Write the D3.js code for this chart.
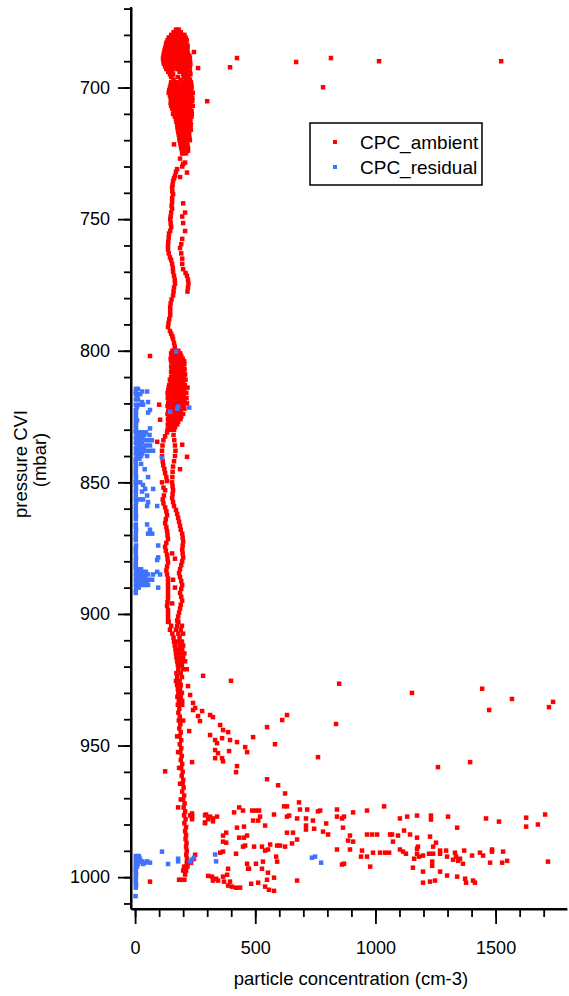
<!DOCTYPE html>
<html><head><meta charset="utf-8">
<script src="https://cdn.jsdelivr.net/npm/d3@7"></script>
<style>body{margin:0;background:#fff;} svg{display:block;} text{font-family:"Liberation Sans",Arial,sans-serif;fill:#000;}</style>
</head><body><svg id="chart" width="569" height="996"></svg>
<script>
// ---------- DATA ----------
const xTickValues = [0, 500, 1000, 1500];
const yTickValues = [700, 750, 800, 850, 900, 950, 1000];
const seriesNames = ["CPC_ambient", "CPC_residual"];
const xTitle = "particle concentration (cm-3)";
const yTitleLines = ["pressure CVI", "(mbar)"];

// rows: [pressure, conc, conc, ...]
const ambientTopRows = [
[678,170,182],[679,160,175,190],[680,150,165,180,195,205],[681,140,155,168,182,196,210],
[682,135,150,163,177,190,203,215],[683,130,145,158,171,185,198,212],[684,128,142,155,168,181,194,207,218],
[685,125,138,152,165,178,191,204,218],[686,122,136,150,164,177,190,203,216],[687,120,134,148,162,176,190,204,220],
[688,118,132,146,160,174,188,202,216,226],[689,116,130,144,158,172,186,200,214,228],[690,118,132,146,160,174,188,202,216,228],
[691,120,134,148,162,176,190,204,218,230],[692,125,140,155,170,185,200,215,228],[693,130,145,160,178,195,212,226],
[694,138,152,185,200,215,228],[695,145,158,200,215,230],[696,150,178,205,222],[697,160,190,210,228],
[698,150,165,180,200,218,232],[699,148,162,176,190,204,218,234],[700,145,160,175,190,205,220,235],
[701,142,157,172,187,202,217,232],[702,140,155,170,185,200,215,230,240],[703,145,160,175,190,205,220,235],
[704,148,163,178,193,208,223,238],[705,150,165,180,195,210,225,238],[706,148,162,176,190,204,218,232],
[707,150,165,180,195,210,225,240],[708,155,170,185,200,215,230],[709,160,175,190,205,220,235],
[710,158,172,186,200,214,228,236],[711,165,180,195,210,225,235],[712,170,185,200,215,230],
[713,172,186,200,214,228],[714,175,190,205,220,232],[715,176,190,204,218,230],[716,178,192,206,220,232],
[717,180,195,210,225],[718,182,196,210,224],[719,184,198,212,226],[720,185,200,215,228],
[721,188,202,216],[722,190,204,218],[723,192,206,220],[724,195,208,220],[725,198,212]
];
// [conc, pressure]
const ambientTopOutliers = [
[245,686.5],[262,692.6],[300,705.2],[395,692.3],[424,688.8],[162,721.6],[216,732.3],
[670,690.3],[815,688.8],[782,699.9],[1015,690],[1523,690]
];
const ambientUpperTraceA = [
[196,725],[187,727],[200,729],[208,728.5],[196,730],[175,731],[170,732],[166,733.5],[162,734.5],[158,735.5],
[156,737],[154,738],[155,739.5],[158,740.5],[154,742],[154,743.5],[152,745],[154,746],[150,747.5],[148,749],
[146,750],[148,751.5],[150,753],[146,754.5],[141,755.5],[140,757],[138,758.5],[137,760],[137,761.5],[140,763],
[145,764.5],[150,765.5],[154,767],[157,768.5],[158,770],[162,771.5],[165,773],[166,774.5],[162,776],[160,777.5],
[158,779],[152,780.5],[148,782],[146,783.5],[146,785],[146,786.5],[142,788],[139,789.5],[137,791],[145,792.5],
[150,793.5],[155,794.5],[158,795.5],[162,797],[165,798.5],[166,800]
];
const ambientUpperTraceB = [
[187,734],[200,744],[208,747.5],[196,749],[200,751.5],[208,754.5],[196,757.5],[192,759.5],[187,761],[192,763],
[196,765],[196,767],[200,769],[210,770.5],[216,771.5],[220,773],[222,774.5],[220,776],[218,777.5]
];
const ambientMidRows = [
[800,155,168,180],[801,150,163,176,188],[802,152,165,178,192],[803,148,160,172,185,198],[804,150,163,176,190,204],
[805,155,168,180,193,205],[806,150,162,175,188,200],[807,153,166,179,192,206],[808,150,163,176,189,202],
[809,155,168,181,195,208],[810,150,163,176,189,202],[811,145,158,171,184,197,210],[812,148,161,174,187,200],
[813,142,155,168,181,194,207],[814,140,153,166,179,192,205,218],[815,138,151,164,177,190,203],
[816,135,148,161,174,187,200,213],[817,138,151,164,177,190,203],[818,136,149,162,175,188,201,214],
[819,140,153,166,179,192,205],[820,138,151,164,177,190,203,216],[821,135,148,161,174,187,200],
[822,140,153,166,179,192,205],[823,138,151,164,177,190],[824,135,148,161,174,187,200],[825,140,153,166,179,192],
[826,137,150,163,176,189],[827,140,153,166,179],[828,136,149,162,175],[829,140,153,166],[830,135,150,162]
];
const ambientMidOutliers = [
[62,802],[100,820.5],[196,835.7],[216,840.3],[187,845],[92,834.6],[104,826.2]
];
const ambientLowerTraceA = [
[140,830],[133,831],[125,832.5],[118,834],[114,836],[112,838],[112,840],[115,842],[117,843.5],[122,845],
[125,846.5],[130,848],[133,849.5],[112,850],[118,852],[125,853],[120,855],[115,856.5],[118,858],[125,859.5],
[130,861],[133,862.5],[128,864],[125,865.5],[130,867],[133,868.5],[135,870],[137,871.5],[130,873],[125,874.5],
[128,876],[133,877.5],[135,879],[137,880.5],[133,882],[130,883.5],[133,885],[137,886.5],[137,888],[137,889.5],
[137,891],[137,892.5],[137,894],[135,895.5],[133,897],[137,898.5],[137,900],[137,901.5],[137,903]
];
const ambientLowerTraceB = [
[158,830],[160,832],[163,834],[166,836],[168,838],[166,840],[162,842],[158,844],[156,846],[155,848],
[154,850],[156,851.5],[158,853],[156,854.5],[154,856],[158,857.5],[162,859],[170,860.5],[175,862],[179,863.5],
[183,865],[187,866.5],[190,868],[196,869.5],[198,871],[200,872.5],[198,874],[196,875.5],[198,877],[200,878.5],
[196,880],[192,881.5],[187,883],[183,884.5],[187,886],[192,887.5],[196,889],[192,890.5],[187,892],[192,893.5],
[196,895],[190,896.5],[187,898],[183,899.5],[179,901],[175,902.5],
[154,877],[166,879],[158,887],[166,890],[154,896]
];
const ambientColumnRows = [
[903,140,180],[904.5,150,175,195],[906,145,170,190],[907.5,155,180,200],[909,160,185],[910.5,162,178,195],
[912,165,185,200],[913.5,168,180,196],[915,170,188,205],[916.5,172,185,200],[918,175,192,208],[919.5,178,195],
[921,180,200,215],[922.5,172,190],[924,175,195],[925.5,170,185],[927,175,190],[928.5,178,187],[930,180,195],
[931.5,176,190],[933,182,196],[934.5,178,196],[936,184],[937.5,180],[939,186],[940.5,182,200],[942,188],
[943.5,184],[945,190],[946.5,185,175],[948,192],[949.5,186],[951,192],[952.5,188,179],[954,194],[955.5,190],
[957,196],[958.5,192,183],[960,198],[961.5,194],[963,200],[964.5,198,187],[966,202],[967.5,196],[969,204],
[970.5,200,190],[972,206],[973.5,202,179],[975,208],[976.5,204,229,291],[978,210,237,304],[979.5,205,291],
[981,212],[982.5,208],[984,212],[985.5,210],[987,214],[988.5,212],[990,215],[991.5,213,250],[993,216,245],
[994.5,215,233],[996,218,212,204],[997.5,212,200,208],[999,208],[1001,205,190,183]
];
const ambientSpread950 = [
[220,927.4],[229,930.8],[241,933.8],[250,935.7],[279,936.9],[312,938.4],[324,939.2],[354,942.2],[366,944.1],
[387,944.9],[362,947.2],[395,947.9],[424,948.7],[458,950.6],[466,952.5],[491,946.8],[341,949.1],[333,951.7],
[345,952.9],[362,954.8],[366,956],[333,954.8],[391,952.1],[582,949.5],[549,943],[612,940.3],[632,938.4],
[283,923.5],[399,925.4],[849,926.5],[1152,930],[1444,928.4],[1568,932.3],[1473,936.5],[1722,935.4],[1739,933.4],
[836,941.8],[761,954.4],[1260,958.2],[1394,956.3],[125,959.8],[237,956.3],[225,944.5],[424,957.8],[420,960.1],
[549,962.8],[241,936.5],[262,938.8],[270,940.7],[312,946],[333,947.9]
];
const ambientBottom = [
[595,965.1],[624,968.2],[682,971.6],[620,973.1],[632,973.1],[686,974.3],[716,974.3],[770,974.7],[840,974.3],
[965,974.7],[1036,973.1],[433,973.5],[449,974.7],[412,975.4],[487,974.7],[503,974.7],[516,974.7],[295,976.2],
[312,977],[341,977],[324,977.7],[291,979.2],[324,978.8],[578,976.2],[520,977],[632,977],[641,976.6],[674,977.7],
[711,977.7],[711,980.4],[740,978.5],[761,975],[840,977],[861,977.7],[869,977],[907,975.4],[865,981.2],[1102,977.7],
[1132,977],[1173,976.6],[1231,976.6],[1231,978.1],[1302,977],[1460,977.7],[1514,978.9],[1627,977.4],[1627,980.8],
[1706,976.2],[1676,980],[1340,981.2],[491,978.5],[512,978.5],[541,980.4],[424,981.2],[453,980.8],[379,983.1],
[433,985],[466,984.2],[453,985],[366,986.5],[366,990.3],[354,990.7],[420,991.1],[449,988.4],[495,988.4],[528,988.4],
[562,987.6],[553,989.5],[541,989.9],[591,988],[603,988],[624,988.4],[653,987.2],[674,985.7],[632,983.1],[657,983.1],
[711,981.9],[745,981.6],[782,982.7],[803,983.8],[795,979.6],[894,984.2],[907,986.5],[886,986.1],[840,989.5],
[894,989.5],[965,983.8],[986,983.8],[1007,983.8],[1061,983.8],[1069,983.8],[1094,984.2],[1119,982.3],[1144,983.8],
[1073,986.5],[1173,985],[1227,984.6],[1252,986.9],[1240,988.4],[1177,988.4],[944,989.9],[940,992.2],[965,992.2],
[990,990.7],[1019,990.7],[1040,990.7],[1057,990.7],[1102,989.5],[1115,990.3],[1127,991.1],[1173,989.2],[1173,991.1],
[1181,992.2],[1198,991.8],[1223,991.1],[1240,991.1],[1269,989.9],[1269,991.1],[1294,989.9],[1298,992.2],[1331,990.7],
[1335,992.2],[1352,993],[1364,994.9],[1323,993.4],[1344,993.8],[1402,991.8],[1435,990.7],[1448,991.8],[1485,989.5],
[1485,990.3],[1477,994.5],[1527,994.5],[1548,993.8],[1531,990.3],[1718,994.1],[1161,993],[1236,994.1],[1236,995.7],
[1156,996.4],[1198,997.9],[1269,997.9],[1298,999.4],[1248,1001.3],[1227,1001.7],[1198,1002.1],[1340,999.8],
[1373,1000.6],[1377,1002.1],[1406,1001.3],[1414,1002.1],[1369,989.9],[978,996],[869,994.9],[674,1001.3],
[474,996.8],[503,994.9],[532,994.1],[528,996.8],[553,998.3],[549,1001],[578,1000.2],[591,994.1],[587,992.2],
[483,1002.5],[512,1002.1],[541,1003.6],[557,1004.8],[578,1005.2],[304,999.5],[320,999.8],[337,1000.6],[345,1001.3],
[324,1001.3],[366,999.8],[383,999.1],[387,996.8],[370,1001.7],[395,1001.7],[387,1003.2],[403,1003.6],[420,1004],
[437,1004],[366,984.2],[379,986.9],[458,988],[62,1001.7],[466,994.9],[470,996.8],[861,995.2],[237,975.8],[237,977]
];
const residualUpperRows = [
[814.5,4,12],[815.5,29,50,3],[816.5,21,3],[817.5,8],[818.5,12,3],[819.5,29,54],[820.5,33,21,3],[821.5,8],
[822.5,62,3],[823.5,54,4],[824.5,3],[825.5,4],[826.5,8,3],[827.5,4],[828.5,3],[829.5,62,4],[830.5,3],
[831,3,15,30,45],[832,8,22,38,60],[833,3,15,30],[834,5,20,40,55,70],[835,3,12,28],[836,8,25,45,62],
[837,3,18,35],[838,5,22,40,58,75],[839,3,15,30],[840,8,25,50],[841,3,18],
[842,3],[843,3,25],[844,4],[845,3,40],[846,3],[847,3],[848,54,4],[849,3],[850,21,3],[851,33,3],
[852.5,42,75,4],[853.5,29,3],[855,50,3],[856.5,33,21,3],[857.5,54,4],[859,92,50,3],[860.5,3],[862,3],[863,4],
[864,3],[866,50,3],[867,3],[868,62,4],[869.5,54,71,3],[871,3],[872,3],[874,96,4],[875,3],[876,3],[877,3],
[878.5,96,4],[879.5,92,3],[881,3],[882,3],
[883,3,12,25],[884,5,18,32,45,92],[885,3,10,22,38,54,75,104],[886,5,15,28,42],[887,3,12,25,40,58,71],
[888,5,18,32,48],[889,3,10,22,36,54],[890,5,15,96],[891,3],[892,3]
];
const residualUpperOutliers = [
[112,840.7],[175,822],[146,823.2],[179,821.2],[171,800.3],[225,821.6]
];
const residualLowerRows = [
[990.3,112],[991.4,333],[992,3,8,16],[992.6,245,736],[993,4,12,20,179],[993.4,237],
[994,3,8,16,24,29,50,179,229,337],[994.5,42,62,774],[995,4,12,137,33],[996,3,8],[997,3],[998,3],
[999,4],[1000,3],[1001,3],[1002,3],[1003,4],[1004,3],[1007.2,2]
];
const residualLowerOutliers = [[749,992.2]];

// ---------- BUILD ----------
const fromRows = rows => rows.flatMap(r => r.slice(1).map(c => [c, r[0]]));
const ambient = [].concat(fromRows(ambientTopRows), ambientTopOutliers, ambientUpperTraceA, ambientUpperTraceB,
  fromRows(ambientMidRows), ambientMidOutliers, ambientLowerTraceA, ambientLowerTraceB,
  fromRows(ambientColumnRows), ambientSpread950, ambientBottom);
const residual = [].concat(fromRows(residualUpperRows), residualUpperOutliers,
  fromRows(residualLowerRows), residualLowerOutliers);

const colors = {amb: "#ff0000", res: "#3f72ff"};
const svg = d3.select("#chart");
const x = d3.scaleLinear().domain([-17, 1797]).range([131, 567]);
const y = d3.scaleLinear().domain([669.4, 1012.1]).range([7, 909]);
const ms = 4.5;

function drawPts(data, color) {
  svg.append("g").selectAll("rect").data(data).join("rect")
    .attr("x", d => x(d[0]) - ms/2).attr("y", d => y(d[1]) - ms/2)
    .attr("width", ms).attr("height", ms).attr("fill", color);
}
drawPts(ambient, colors.amb);
drawPts(residual, colors.res);

// axes
const fs = "18px";
const fmt = d3.format("d");
const yMinor = svg.append("g").attr("transform", "translate(131,0)")
  .call(d3.axisLeft(y).tickValues(d3.range(670, 1011, 10)).tickSize(7).tickSizeOuter(0).tickFormat(""));
const yMajor = svg.append("g").attr("transform", "translate(131,0)")
  .call(d3.axisLeft(y).tickValues(yTickValues).tickSize(13).tickSizeOuter(0).tickPadding(8).tickFormat(fmt));
const xMinor = svg.append("g").attr("transform", "translate(0,909)")
  .call(d3.axisBottom(x).tickValues(d3.range(0, 1701, 100)).tickSize(8).tickSizeOuter(0).tickFormat(""));
const xMajor = svg.append("g").attr("transform", "translate(0,909)")
  .call(d3.axisBottom(x).tickValues(xTickValues).tickSize(15).tickSizeOuter(0).tickPadding(17).tickFormat(fmt));
[yMinor, yMajor, xMinor, xMajor].forEach(g => {
  g.selectAll("path.domain").attr("stroke", "#000").attr("stroke-width", 2);
  g.selectAll(".tick line").attr("stroke", "#000").attr("stroke-width", 1.8);
  g.selectAll("text").attr("font-size", fs).attr("font-family", "Liberation Sans, Arial, sans-serif").attr("fill", "#000");
});
yMinor.select("path.domain").attr("d", "M0,7V909");
xMinor.select("path.domain").attr("d", "M131,0H567");

// titles
svg.append("text").attr("x", 351).attr("y", 985).attr("text-anchor", "middle")
  .attr("font-size", "18.5px").text(xTitle);
svg.append("text").attr("transform", "translate(27,464) rotate(-90)").attr("text-anchor", "middle")
  .attr("font-size", "18.5px").text(yTitleLines[0]);
svg.append("text").attr("transform", "translate(46,460) rotate(-90)").attr("text-anchor", "middle")
  .attr("font-size", "18.5px").text(yTitleLines[1]);

// legend
const lg = svg.append("g");
lg.append("rect").attr("x", 310).attr("y", 123).attr("width", 172).attr("height", 62)
  .attr("fill", "#fff").attr("stroke", "#000").attr("stroke-width", 1.5);
[[colors.amb, 142, 149], [colors.res, 167, 174]].forEach((e, i) => {
  lg.append("rect").attr("x", 333).attr("y", e[1] - 2).attr("width", 4).attr("height", 4).attr("fill", e[0]);
  lg.append("text").attr("x", 360).attr("y", e[2]).attr("font-size", "19px").text(seriesNames[i]);
});
</script></body></html>
